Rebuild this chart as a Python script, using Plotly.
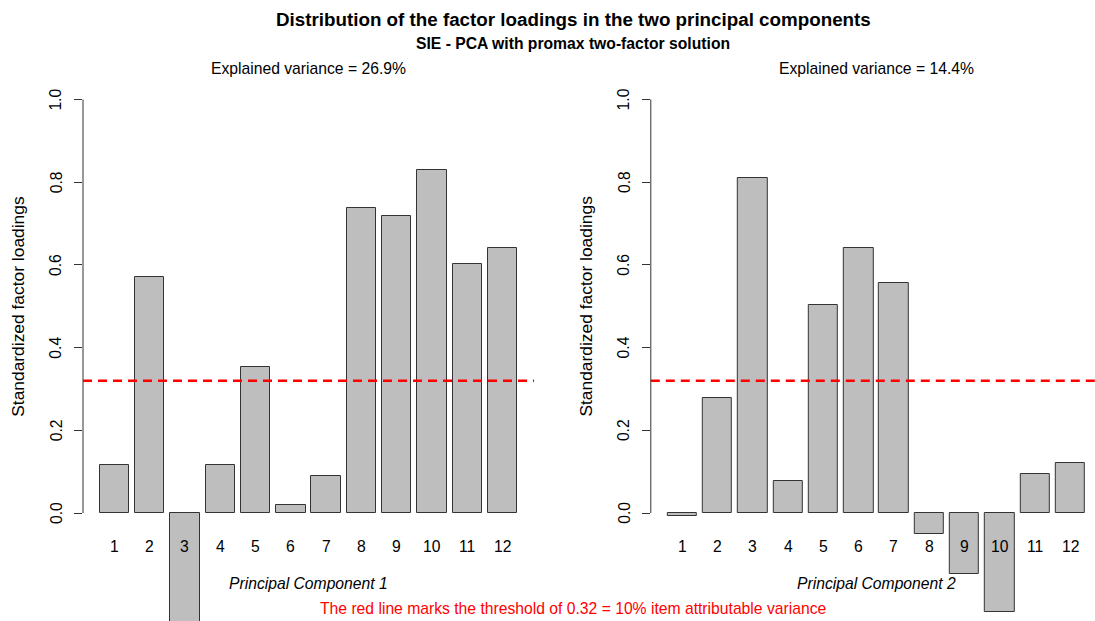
import plotly.graph_objects as go

# ---------------- data ----------------
items = [str(i) for i in range(1, 13)]
pc1_loadings = [0.116, 0.570, -0.30, 0.116, 0.353, 0.020, 0.090, 0.737, 0.719, 0.829, 0.602, 0.642]
pc2_loadings = [-0.007, 0.278, 0.810, 0.077, 0.503, 0.641, 0.556, -0.050, -0.148, -0.240, 0.094, 0.121]
explained_variance = ["26.9%", "14.4%"]
component_names = ["Principal Component 1", "Principal Component 2"]
threshold = 0.32
y_tick_values = [0.0, 0.2, 0.4, 0.6, 0.8, 1.0]
y_tick_labels = ["0.0", "0.2", "0.4", "0.6", "0.8", "1.0"]

# ---------------- layout constants ----------------
W, H = 1095, 621
FONT = "Liberation Sans, Arial, sans-serif"
FS = 15.7
BAR_W, SPACE = 1.0, 0.2
centers = [SPACE + (BAR_W + SPACE) * i + BAR_W / 2 for i in range(len(items))]

y0_px, y1_px = 513.0, 99.6          # pixel rows of y=0 and y=1
unit_y = y0_px - y1_px
y_range = [-(H - y0_px) / unit_y, y0_px / unit_y]

px_per_x = 29.41
x_lo = -0.368
p1_left = 83.0
p1_right = p1_left + (14.968 - x_lo) * px_per_x
p2_left = 650.8
p2_right = W
x2_hi = x_lo + (p2_right - p2_left) / px_per_x

fig = go.Figure()
bar_style = dict(marker=dict(color="#BEBEBE", line=dict(color="#333333", width=1)),
                 width=BAR_W, showlegend=False, hoverinfo="x+y")
fig.add_trace(go.Bar(x=centers, y=pc1_loadings, xaxis="x", yaxis="y", **bar_style))
fig.add_trace(go.Bar(x=centers, y=pc2_loadings, xaxis="x2", yaxis="y2", **bar_style))

yaxis_common = dict(range=y_range, domain=[0, 1], tickvals=y_tick_values, ticks="outside",
                    ticklen=8, tickcolor="#333333", tickwidth=1, showticklabels=False,
                    showgrid=False, zeroline=False, showline=False)
fig.update_layout(
    width=W, height=H,
    margin=dict(l=0, r=0, t=0, b=0),
    paper_bgcolor="white", plot_bgcolor="white",
    font=dict(family=FONT, size=FS, color="black"),
    xaxis=dict(domain=[p1_left / W, p1_right / W], range=[x_lo, 14.968], visible=False),
    xaxis2=dict(domain=[p2_left / W, p2_right / W], range=[x_lo, x2_hi], visible=False),
    yaxis=dict(anchor="x", **yaxis_common),
    yaxis2=dict(anchor="x2", **yaxis_common),
    bargap=0,
)

shapes = []
annotations = []
panels = [("x", "y", p1_left), ("x2", "y2", p2_left)]
for k, (xr, yr, left_px) in enumerate(panels):
    # axis line only from 0 to 1
    shapes.append(dict(type="line", xref=f"{xr} domain", yref=yr, x0=0, x1=0, y0=0, y1=1,
                       line=dict(color="#333333", width=1)))
    # threshold line
    shapes.append(dict(type="line", xref=f"{xr} domain", yref=yr, x0=0, x1=1,
                       y0=threshold, y1=threshold,
                       line=dict(color="#FF0000", width=2.5, dash="9px,6px")))
    # y tick labels (rotated)
    for v, lab in zip(y_tick_values, y_tick_labels):
        annotations.append(dict(text=lab, xref="paper", yref=yr, x=(left_px - 27) / W, y=v,
                                textangle=-90, showarrow=False, xanchor="center", yanchor="middle",
                                font=dict(size=FS)))
    # y axis title
    annotations.append(dict(text="Standardized factor loadings", xref="paper", yref=yr,
                            x=(left_px - 64.5) / W, y=0.5, textangle=-90, showarrow=False,
                            xanchor="center", yanchor="middle", font=dict(size=17.4)))
    # x tick labels
    for c, lab in zip(centers, items):
        annotations.append(dict(text=lab, xref=xr, yref="paper", x=c, y=1 - 546 / H,
                                showarrow=False, xanchor="center", yanchor="middle",
                                font=dict(size=FS)))
    # component name
    annotations.append(dict(text=f"<i>{component_names[k]}</i>", xref=xr, yref="paper", x=7.3,
                            y=1 - 583 / H, showarrow=False, xanchor="center", yanchor="middle",
                            font=dict(size=FS)))
    # explained variance
    annotations.append(dict(text=f"Explained variance = {explained_variance[k]}", xref=xr,
                            yref="paper", x=7.3, y=1 - 68.7 / H, showarrow=False,
                            xanchor="center", yanchor="middle", font=dict(size=FS)))

annotations.append(dict(text="<b>Distribution of the factor loadings in the two principal components</b>",
                        xref="paper", yref="paper", x=573 / W, y=1 - 19 / H, showarrow=False,
                        xanchor="center", yanchor="middle", font=dict(size=18.8)))
annotations.append(dict(text="<b>SIE - PCA with promax two-factor solution</b>",
                        xref="paper", yref="paper", x=573 / W, y=1 - 43.3 / H, showarrow=False,
                        xanchor="center", yanchor="middle", font=dict(size=FS)))
annotations.append(dict(text="The red line marks the threshold of 0.32 = 10% item attributable variance",
                        xref="paper", yref="paper", x=573 / W, y=1 - 608 / H, showarrow=False,
                        xanchor="center", yanchor="middle", font=dict(size=FS, color="#FF0000")))

fig.update_layout(shapes=shapes, annotations=annotations)
fig.write_html("out.html")
